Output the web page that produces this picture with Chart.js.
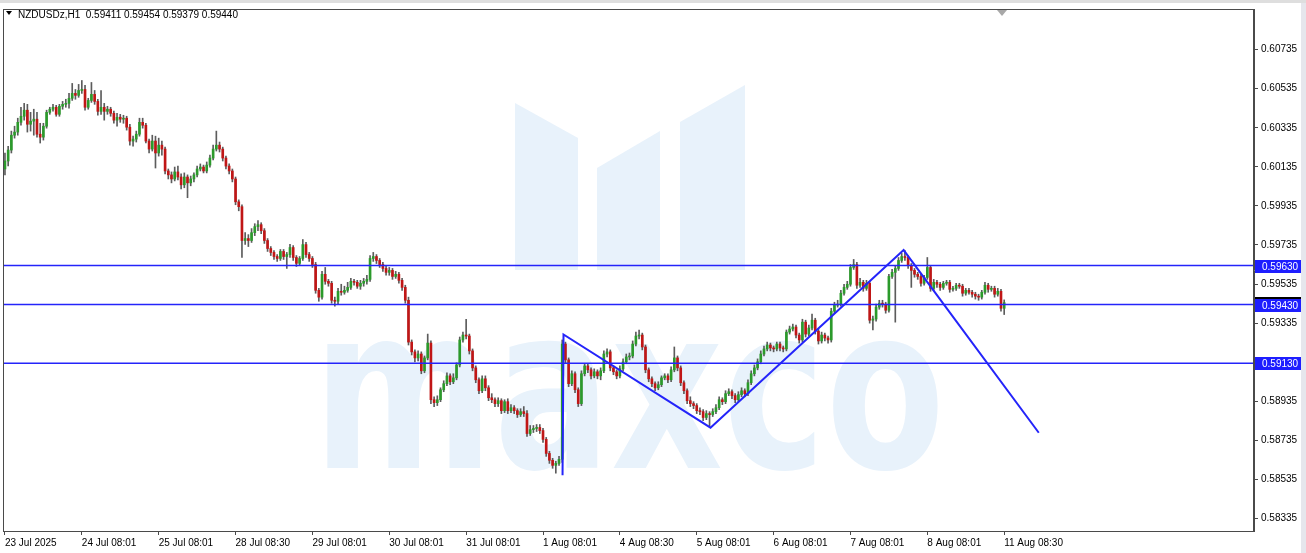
<!DOCTYPE html>
<html>
<head>
<meta charset="utf-8">
<title>NZDUSDz,H1</title>
<script src="https://cdn.jsdelivr.net/npm/chart.js@4/dist/chart.umd.min.js"></script>
<style>
html, body { margin: 0; padding: 0; background: #fff; }
#chart-container { width: 1306px; height: 553px; }
</style>
</head>
<body>
<div id="chart-container"><canvas id="chart" width="1306" height="553"></canvas></div>
<script>
// NZDUSDz H1 candles (bar 0 = 23 Jul 2025)
const symbolTitle = 'NZDUSDz,H1';
const lastOHLC = [0.59411, 0.59454, 0.59379, 0.59440];

const timeLabels = ['23 Jul 2025', '24 Jul 08:01', '25 Jul 08:01', '28 Jul 08:30', '29 Jul 08:01',
    '30 Jul 08:01', '31 Jul 08:01', '1 Aug 08:01', '4 Aug 08:30', '5 Aug 08:01', '6 Aug 08:01',
    '7 Aug 08:01', '8 Aug 08:01', '11 Aug 08:30'];
const labelBars = [0, 24, 48, 72, 96, 120, 144, 168, 192, 216, 240, 264, 288, 312];

const priceTicks = [0.60735, 0.60535, 0.60335, 0.60135, 0.59935, 0.59735, 0.59535, 0.59335,
    0.59135, 0.58935, 0.58735, 0.58535, 0.58335];
const hiddenTick = 0.59135;

const opens = [
    0.60124,0.60165,0.60221,0.60297,0.60313,0.60363,0.60394,0.60425,0.60353,0.60369,
    0.60379,0.60302,0.60287,0.60343,0.60414,0.60430,0.60440,0.60404,0.60445,0.60455,
    0.60460,0.60486,0.60511,0.60501,0.60526,0.60531,0.60440,0.60475,0.60506,0.60470,
    0.60419,0.60440,0.60419,0.60430,0.60409,0.60374,0.60389,0.60379,0.60384,0.60338,
    0.60267,0.60277,0.60302,0.60363,0.60348,0.60267,0.60226,0.60267,0.60206,0.60246,
    0.60226,0.60114,0.60094,0.60073,0.60109,0.60083,0.60043,0.60083,0.60053,0.60073,
    0.60094,0.60124,0.60134,0.60114,0.60144,0.60180,0.60226,0.60246,0.60226,0.60180,
    0.60139,0.60114,0.60073,0.59956,0.59931,0.59758,0.59768,0.59758,0.59798,0.59829,
    0.59839,0.59808,0.59758,0.59717,0.59697,0.59676,0.59666,0.59702,0.59676,0.59686,
    0.59722,0.59671,0.59641,0.59666,0.59737,0.59686,0.59666,0.59635,0.59503,0.59468,
    0.59585,0.59549,0.59539,0.59452,0.59447,0.59498,0.59493,0.59503,0.59518,0.59549,
    0.59544,0.59524,0.59539,0.59549,0.59559,0.59666,0.59676,0.59656,0.59635,0.59615,
    0.59595,0.59605,0.59574,0.59585,0.59554,0.59518,0.59452,0.59238,0.59188,0.59157,
    0.59177,0.59091,0.59157,0.59233,0.58943,0.58928,0.58943,0.58994,0.59025,0.59065,
    0.59035,0.59055,0.59121,0.59249,0.59274,0.59269,0.59193,0.59106,0.59045,0.58989,
    0.59050,0.59004,0.58953,0.58943,0.58923,0.58938,0.58887,0.58933,0.58887,0.58902,
    0.58887,0.58867,0.58882,0.58872,0.58770,0.58790,0.58796,0.58801,0.58785,0.58740,
    0.58668,0.58633,0.58607,0.58617,0.58638,0.59228,0.59147,0.59025,0.59076,0.58994,
    0.58923,0.59076,0.59116,0.59096,0.59065,0.59086,0.59065,0.59091,0.59177,0.59188,
    0.59106,0.59086,0.59065,0.59101,0.59137,0.59162,0.59167,0.59228,0.59269,0.59274,
    0.59213,0.59096,0.59050,0.59025,0.59004,0.59020,0.59055,0.59065,0.59045,0.59096,
    0.59157,0.59106,0.59030,0.58989,0.58938,0.58923,0.58913,0.58887,0.58882,0.58852,
    0.58872,0.58867,0.58882,0.58902,0.58943,0.58933,0.58974,0.58984,0.58964,0.58943,
    0.58969,0.58989,0.58974,0.59030,0.59076,0.59106,0.59137,0.59177,0.59203,0.59223,
    0.59208,0.59203,0.59228,0.59208,0.59203,0.59289,0.59305,0.59315,0.59274,0.59249,
    0.59340,0.59279,0.59310,0.59350,0.59294,0.59244,0.59274,0.59259,0.59249,0.59396,
    0.59427,0.59432,0.59488,0.59518,0.59534,0.59620,0.59635,0.59529,0.59544,0.59513,
    0.59539,0.59350,0.59356,0.59417,0.59437,0.59432,0.59401,0.59574,0.59595,0.59615,
    0.59656,0.59676,0.59671,0.59630,0.59605,0.59585,0.59574,0.59539,0.59569,0.59620,
    0.59513,0.59544,0.59534,0.59518,0.59539,0.59544,0.59508,0.59513,0.59529,0.59524,
    0.59488,0.59503,0.59493,0.59483,0.59473,0.59468,0.59493,0.59529,0.59508,0.59513,
    0.59483,0.59498,0.59411];

const highs = [
    0.60206,0.60240,0.60318,0.60343,0.60384,0.60440,0.60460,0.60455,0.60414,0.60430,
    0.60414,0.60358,0.60358,0.60425,0.60440,0.60455,0.60450,0.60455,0.60470,0.60481,
    0.60511,0.60562,0.60531,0.60557,0.60577,0.60552,0.60486,0.60567,0.60526,0.60481,
    0.60526,0.60460,0.60445,0.60440,0.60420,0.60409,0.60404,0.60399,0.60394,0.60353,
    0.60292,0.60318,0.60384,0.60384,0.60358,0.60277,0.60297,0.60292,0.60282,0.60267,
    0.60236,0.60124,0.60109,0.60134,0.60139,0.60099,0.60104,0.60094,0.60088,0.60104,
    0.60139,0.60150,0.60144,0.60160,0.60195,0.60246,0.60318,0.60262,0.60236,0.60190,
    0.60150,0.60124,0.60083,0.59966,0.59941,0.59798,0.59788,0.59819,0.59844,0.59860,
    0.59849,0.59819,0.59768,0.59727,0.59707,0.59686,0.59712,0.59712,0.59697,0.59738,
    0.59732,0.59681,0.59676,0.59763,0.59748,0.59697,0.59676,0.59646,0.59513,0.59600,
    0.59620,0.59559,0.59549,0.59468,0.59513,0.59534,0.59524,0.59544,0.59564,0.59559,
    0.59554,0.59554,0.59564,0.59580,0.59681,0.59697,0.59686,0.59666,0.59646,0.59630,
    0.59620,0.59615,0.59600,0.59595,0.59564,0.59529,0.59468,0.59249,0.59198,0.59193,
    0.59188,0.59167,0.59279,0.59244,0.58958,0.58963,0.59004,0.59040,0.59081,0.59076,
    0.59076,0.59132,0.59264,0.59289,0.59355,0.59279,0.59203,0.59116,0.59055,0.59065,
    0.59065,0.59015,0.58974,0.58953,0.58953,0.58948,0.58943,0.58948,0.58918,0.58913,
    0.58897,0.58897,0.58908,0.58887,0.58811,0.58811,0.58816,0.58816,0.58796,0.58750,
    0.58679,0.58643,0.58628,0.58653,0.59249,0.59238,0.59157,0.59091,0.59086,0.59004,
    0.59091,0.59127,0.59127,0.59106,0.59101,0.59096,0.59106,0.59193,0.59203,0.59198,
    0.59116,0.59096,0.59116,0.59152,0.59177,0.59182,0.59244,0.59289,0.59300,0.59284,
    0.59223,0.59106,0.59060,0.59035,0.59035,0.59065,0.59076,0.59076,0.59111,0.59213,
    0.59167,0.59116,0.59040,0.58999,0.58958,0.58933,0.58923,0.58902,0.58892,0.58887,
    0.58882,0.58897,0.58918,0.58958,0.58953,0.58989,0.58999,0.58994,0.58974,0.58984,
    0.59004,0.58999,0.59045,0.59091,0.59121,0.59152,0.59193,0.59218,0.59238,0.59233,
    0.59218,0.59238,0.59238,0.59218,0.59300,0.59320,0.59330,0.59325,0.59284,0.59355,
    0.59350,0.59325,0.59381,0.59360,0.59305,0.59289,0.59284,0.59269,0.59411,0.59442,
    0.59452,0.59503,0.59534,0.59549,0.59635,0.59661,0.59646,0.59564,0.59554,0.59554,
    0.59549,0.59371,0.59432,0.59452,0.59452,0.59442,0.59585,0.59610,0.59630,0.59671,
    0.59692,0.59707,0.59681,0.59640,0.59615,0.59595,0.59585,0.59580,0.59671,0.59630,
    0.59559,0.59554,0.59544,0.59549,0.59554,0.59554,0.59524,0.59539,0.59539,0.59534,
    0.59513,0.59513,0.59503,0.59493,0.59483,0.59503,0.59544,0.59539,0.59524,0.59524,
    0.59513,0.59508,0.59454];

const lows = [
    0.60094,0.60140,0.60206,0.60282,0.60297,0.60348,0.60374,0.60313,0.60318,0.60297,
    0.60287,0.60257,0.60272,0.60333,0.60404,0.60420,0.60394,0.60394,0.60430,0.60440,
    0.60435,0.60475,0.60481,0.60491,0.60511,0.60425,0.60430,0.60465,0.60455,0.60399,
    0.60404,0.60374,0.60404,0.60394,0.60358,0.60343,0.60363,0.60358,0.60323,0.60246,
    0.60241,0.60262,0.60292,0.60333,0.60257,0.60206,0.60216,0.60129,0.60190,0.60195,
    0.60099,0.60073,0.60053,0.60063,0.60068,0.60022,0.60028,0.59977,0.60038,0.60058,
    0.60083,0.60114,0.60104,0.60104,0.60134,0.60170,0.60216,0.60211,0.60165,0.60124,
    0.60099,0.60058,0.59941,0.59910,0.59671,0.59738,0.59727,0.59748,0.59783,0.59808,
    0.59793,0.59743,0.59702,0.59681,0.59661,0.59651,0.59656,0.59661,0.59615,0.59671,
    0.59656,0.59625,0.59630,0.59656,0.59671,0.59651,0.59620,0.59488,0.59447,0.59458,
    0.59534,0.59524,0.59437,0.59422,0.59432,0.59478,0.59483,0.59493,0.59508,0.59529,
    0.59513,0.59508,0.59524,0.59534,0.59549,0.59651,0.59640,0.59620,0.59600,0.59580,
    0.59580,0.59559,0.59564,0.59539,0.59503,0.59437,0.59223,0.59172,0.59137,0.59142,
    0.59076,0.59081,0.59147,0.58923,0.58908,0.58913,0.58933,0.58984,0.59015,0.59020,
    0.59025,0.59045,0.59111,0.59238,0.59254,0.59177,0.59091,0.59030,0.58974,0.58979,
    0.58989,0.58938,0.58928,0.58908,0.58908,0.58872,0.58877,0.58872,0.58877,0.58872,
    0.58852,0.58857,0.58857,0.58755,0.58760,0.58775,0.58780,0.58770,0.58724,0.58653,
    0.58617,0.58592,0.58567,0.58607,0.58622,0.59132,0.59010,0.59015,0.58979,0.58908,
    0.58913,0.59065,0.59081,0.59050,0.59055,0.59050,0.59045,0.59081,0.59162,0.59091,
    0.59071,0.59050,0.59055,0.59091,0.59127,0.59147,0.59157,0.59218,0.59254,0.59198,
    0.59081,0.59035,0.59010,0.58989,0.58994,0.59010,0.59045,0.59030,0.59035,0.59086,
    0.59091,0.59015,0.58974,0.58923,0.58908,0.58897,0.58872,0.58867,0.58836,0.58841,
    0.58806,0.58857,0.58872,0.58892,0.58918,0.58923,0.58964,0.58948,0.58928,0.58933,
    0.58958,0.58958,0.58964,0.59020,0.59065,0.59096,0.59127,0.59167,0.59193,0.59193,
    0.59188,0.59193,0.59193,0.59188,0.59193,0.59279,0.59295,0.59259,0.59233,0.59238,
    0.59264,0.59269,0.59300,0.59279,0.59228,0.59233,0.59244,0.59233,0.59238,0.59386,
    0.59417,0.59422,0.59478,0.59508,0.59524,0.59610,0.59513,0.59518,0.59498,0.59503,
    0.59335,0.59300,0.59345,0.59406,0.59417,0.59386,0.59391,0.59564,0.59340,0.59605,
    0.59646,0.59656,0.59615,0.59518,0.59570,0.59559,0.59524,0.59529,0.59559,0.59498,
    0.59503,0.59518,0.59503,0.59508,0.59529,0.59493,0.59498,0.59503,0.59513,0.59473,
    0.59478,0.59483,0.59468,0.59458,0.59452,0.59458,0.59483,0.59493,0.59498,0.59468,
    0.59473,0.59396,0.59379];

const closes = [
    0.60165,0.60221,0.60297,0.60313,0.60363,0.60394,0.60425,0.60353,0.60369,0.60379,
    0.60302,0.60287,0.60343,0.60414,0.60430,0.60440,0.60404,0.60445,0.60455,0.60460,
    0.60486,0.60511,0.60501,0.60526,0.60531,0.60440,0.60475,0.60506,0.60470,0.60419,
    0.60440,0.60419,0.60430,0.60409,0.60374,0.60389,0.60379,0.60384,0.60338,0.60267,
    0.60277,0.60302,0.60363,0.60348,0.60267,0.60226,0.60267,0.60206,0.60246,0.60226,
    0.60114,0.60094,0.60073,0.60109,0.60083,0.60043,0.60083,0.60053,0.60073,0.60094,
    0.60124,0.60134,0.60114,0.60144,0.60180,0.60226,0.60246,0.60226,0.60180,0.60139,
    0.60114,0.60073,0.59956,0.59931,0.59758,0.59768,0.59758,0.59798,0.59829,0.59839,
    0.59808,0.59758,0.59717,0.59697,0.59676,0.59666,0.59702,0.59676,0.59686,0.59722,
    0.59671,0.59641,0.59666,0.59737,0.59686,0.59666,0.59635,0.59503,0.59468,0.59585,
    0.59549,0.59539,0.59452,0.59447,0.59498,0.59493,0.59503,0.59518,0.59549,0.59544,
    0.59524,0.59539,0.59549,0.59559,0.59666,0.59676,0.59656,0.59635,0.59615,0.59595,
    0.59605,0.59574,0.59585,0.59554,0.59518,0.59452,0.59238,0.59188,0.59157,0.59177,
    0.59091,0.59157,0.59233,0.58943,0.58928,0.58943,0.58994,0.59025,0.59065,0.59035,
    0.59055,0.59121,0.59249,0.59274,0.59269,0.59193,0.59106,0.59045,0.58989,0.59050,
    0.59004,0.58953,0.58943,0.58923,0.58938,0.58887,0.58933,0.58887,0.58902,0.58887,
    0.58867,0.58882,0.58872,0.58770,0.58790,0.58796,0.58801,0.58785,0.58740,0.58668,
    0.58633,0.58607,0.58617,0.58638,0.59228,0.59147,0.59025,0.59076,0.58994,0.58923,
    0.59076,0.59116,0.59096,0.59065,0.59086,0.59065,0.59091,0.59177,0.59188,0.59106,
    0.59086,0.59065,0.59101,0.59137,0.59162,0.59167,0.59228,0.59269,0.59274,0.59213,
    0.59096,0.59050,0.59025,0.59004,0.59020,0.59055,0.59065,0.59045,0.59096,0.59157,
    0.59106,0.59030,0.58989,0.58938,0.58923,0.58913,0.58887,0.58882,0.58852,0.58872,
    0.58867,0.58882,0.58902,0.58943,0.58933,0.58974,0.58984,0.58964,0.58943,0.58969,
    0.58989,0.58974,0.59030,0.59076,0.59106,0.59137,0.59177,0.59203,0.59223,0.59208,
    0.59203,0.59228,0.59208,0.59203,0.59289,0.59305,0.59315,0.59274,0.59249,0.59340,
    0.59279,0.59310,0.59350,0.59294,0.59244,0.59274,0.59259,0.59249,0.59396,0.59427,
    0.59432,0.59488,0.59518,0.59534,0.59620,0.59635,0.59529,0.59544,0.59513,0.59539,
    0.59350,0.59356,0.59417,0.59437,0.59432,0.59401,0.59574,0.59595,0.59615,0.59656,
    0.59676,0.59671,0.59630,0.59605,0.59585,0.59574,0.59539,0.59569,0.59620,0.59513,
    0.59544,0.59534,0.59518,0.59539,0.59544,0.59508,0.59513,0.59529,0.59524,0.59488,
    0.59503,0.59493,0.59483,0.59473,0.59468,0.59493,0.59529,0.59508,0.59513,0.59483,
    0.59498,0.59411,0.59440];

// horizontal levels + the zigzag drawn on the chart
const levels = [0.59630, 0.59430, 0.59130];
const bidPrice = 0.59440;
const waveBars = [174.1, 174.4, 220.3, 280.6, 322.8];
const wavePrices = [0.58556, 0.59277, 0.58800, 0.59709, 0.58774];

const xMin = -0.3, xMax = 390;
const yMin = 0.58271, yMax = 0.60943;

const bullColor = '#2b9a2b';
const bearColor = '#c01616';
const wickColor = '#5c5c5c';
const lineColor = 'rgb(36,36,250)';
const frameColor = '#4a4a4a';
const watermarkColor = 'rgb(232,242,251)';
const fontFamily = '"Liberation Sans", Arial, sans-serif';


function buildDatasets() {
    var wicks = closes.map(function (c, i) { return {x: i, y: [lows[i], highs[i]]}; });
    var bodies = closes.map(function (c, i) { return {x: i, y: [opens[i], c]}; });
    var bodyColors = closes.map(function (c, i) { return c >= opens[i] ? bullColor : bearColor; });

    var sets = [
        {type: 'bar', data: wicks, backgroundColor: wickColor, barThickness: 1, grouped: false, order: 3},
        {type: 'bar', data: bodies, backgroundColor: bodyColors, barThickness: 2, minBarLength: 1, grouped: false, order: 2}
    ];

    levels.forEach(function (lv) {
        sets.push({
            type: 'line', data: [{x: xMin, y: lv}, {x: xMax, y: lv}],
            borderColor: lineColor, borderWidth: 1.5, pointRadius: 0, order: 1
        });
    });

    sets.push({
        type: 'line',
        data: waveBars.map(function (b, i) { return {x: b, y: wavePrices[i]}; }),
        borderColor: lineColor, borderWidth: 2, pointRadius: 0, tension: 0, order: 0
    });
    return sets;
}


function drawWatermark(ctx) {
    ctx.save();
    ctx.fillStyle = watermarkColor;
    var shapes = [
        [[515, 103], [578, 138], [578, 270], [515, 270]],
        [[597, 168], [660, 131], [660, 270], [597, 270]],
        [[680, 122], [745, 85], [745, 270], [680, 270]]
    ];
    shapes.forEach(function (pts) {
        ctx.beginPath();
        ctx.moveTo(pts[0][0], pts[0][1]);
        for (var k = 1; k < pts.length; k++) ctx.lineTo(pts[k][0], pts[k][1]);
        ctx.closePath();
        ctx.fill();
    });
    ctx.font = 'bold 226px "DejaVu Sans"';
    ctx.textBaseline = 'alphabetic';
    ctx.textAlign = 'left';
    ctx.fillText('maxco', 313, 468, 632);
    ctx.restore();
}


function priceBox(ctx, y, text, fill) {
    ctx.fillStyle = fill;
    ctx.fillRect(1255, Math.round(y) - 6, 46, 13);
    ctx.fillStyle = '#fff';
    ctx.fillText(text, 1262, Math.round(y) + 1);
}


const mt4Plugin = {
    id: 'mt4',
    beforeDraw: function (chart) {
        var ctx = chart.ctx;
        ctx.save();
        ctx.fillStyle = '#fff';
        ctx.fillRect(0, 0, chart.width, chart.height);
        ctx.fillStyle = '#dedede';
        ctx.fillRect(0, 0, chart.width, 3);
        ctx.fillStyle = '#e6e6ec';
        ctx.fillRect(1301, 3, 5, chart.height);
        ctx.restore();
    },
    beforeDatasetsDraw: function (chart) {
        drawWatermark(chart.ctx);
    },
    afterDraw: function (chart) {
        var ctx = chart.ctx;
        var area = chart.chartArea;
        var yScale = chart.scales.y;
        ctx.save();

        ctx.strokeStyle = frameColor;
        ctx.lineWidth = 1;
        ctx.strokeRect(area.left - 0.5, area.top + 0.5, area.right - area.left, area.bottom - area.top);

        // chart shift marker
        ctx.fillStyle = '#a8a8a8';
        ctx.beginPath();
        ctx.moveTo(997, area.top + 1);
        ctx.lineTo(1007, area.top + 1);
        ctx.lineTo(1002, area.top + 7);
        ctx.closePath();
        ctx.fill();

        // symbol line
        ctx.fillStyle = '#000';
        ctx.beginPath();
        ctx.moveTo(6, 11);
        ctx.lineTo(12, 11);
        ctx.lineTo(9, 15);
        ctx.closePath();
        ctx.fill();
        ctx.font = '10px ' + fontFamily;
        ctx.textBaseline = 'alphabetic';
        ctx.fillText(symbolTitle + '  ' + lastOHLC.map(function (v) { return v.toFixed(5); }).join(' '), 18, 18);

        // price labels on the right axis
        ctx.textBaseline = 'middle';
        priceBox(ctx, yScale.getPixelForValue(bidPrice), bidPrice.toFixed(5), '#000');
        levels.forEach(function (lv) {
            priceBox(ctx, yScale.getPixelForValue(lv), lv.toFixed(5), 'rgb(30,30,255)');
        });
        ctx.restore();
    }
};


function chartGenerator() {
    var canvas = document.getElementById('chart');
    Chart.defaults.font.family = fontFamily;
    Chart.defaults.font.size = 10;
    Chart.defaults.color = '#000';

    return new Chart(canvas, {
        type: 'bar',
        data: {datasets: buildDatasets()},
        plugins: [mt4Plugin],
        options: {
            responsive: false,
            animation: false,
            devicePixelRatio: 1,
            layout: {padding: {left: 4, top: 5, right: 0, bottom: 0}},
            plugins: {legend: {display: false}, tooltip: {enabled: false}, title: {display: false}},
            scales: {
                x: {
                    type: 'linear', min: xMin, max: xMax, offset: false,
                    afterBuildTicks: function (s) { s.ticks = labelBars.map(function (b) { return {value: b}; }); },
                    afterFit: function (s) { s.height = 22; },
                    ticks: {
                        autoSkip: false, maxRotation: 0, align: 'start', padding: 2,
                        callback: function (v, idx) { return timeLabels[idx]; }
                    },
                    grid: {offset: false, drawOnChartArea: false, tickLength: 4, color: frameColor},
                    border: {color: frameColor}
                },
                y: {
                    position: 'right', min: yMin, max: yMax,
                    afterBuildTicks: function (s) { s.ticks = priceTicks.map(function (p) { return {value: p}; }); },
                    afterFit: function (s) { s.width = 52; },
                    ticks: {
                        padding: 3,
                        callback: function (v) { return Math.abs(v - hiddenTick) < 1e-7 ? '' : v.toFixed(5); }
                    },
                    grid: {drawOnChartArea: false, tickLength: 4, color: frameColor},
                    border: {color: frameColor}
                }
            }
        }
    });
}

chartGenerator();
</script>
</body>
</html>
